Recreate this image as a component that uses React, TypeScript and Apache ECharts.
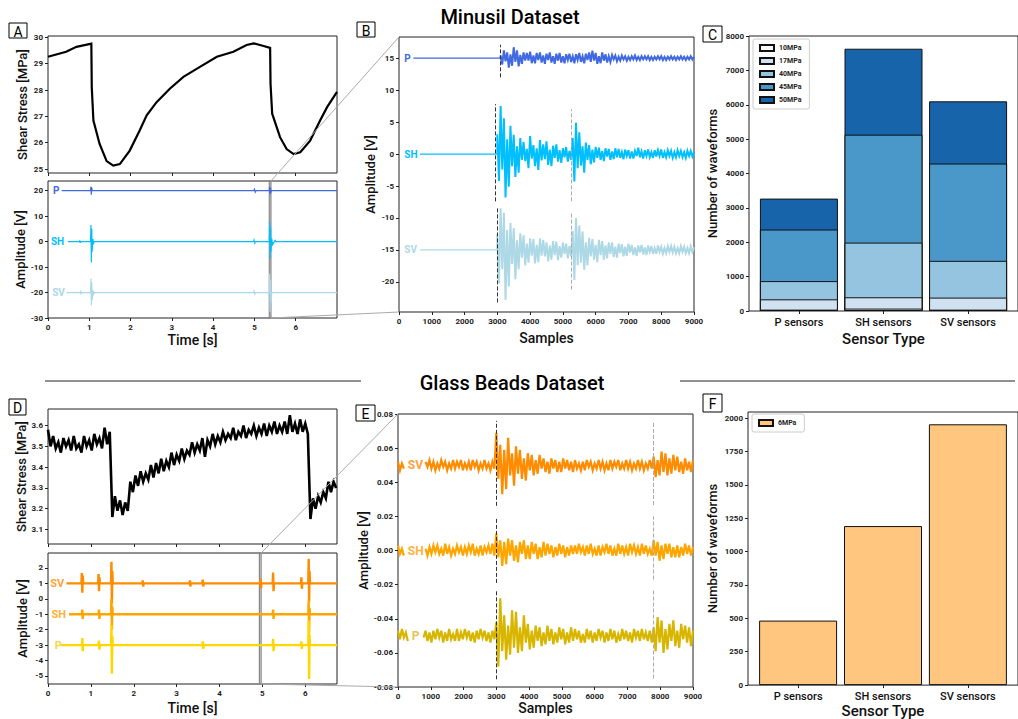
import React, { useEffect, useRef } from 'react';
import * as echarts from 'echarts';

const FONT = 'Roboto, "DejaVu Sans", sans-serif';

// ---------- Panel A (Minusil) : shear stress ----------
const aStressT = [0, 0.44, 0.69, 1.05, 1.06, 1.1, 1.25, 1.42, 1.58, 1.74, 1.98, 2.22, 2.39, 2.63, 2.95, 3.28, 3.68, 4.09, 4.49, 4.81, 4.98, 5.2, 5.38, 5.39, 5.43, 5.62, 5.78, 5.95, 6.11, 6.35, 6.59, 6.76, 7.0];
const aStressV = [29.26, 29.45, 29.64, 29.76, 28.1, 26.84, 25.95, 25.3, 25.13, 25.19, 25.7, 26.46, 27.04, 27.54, 28.05, 28.5, 28.88, 29.26, 29.45, 29.71, 29.77, 29.68, 29.6, 28.24, 27.1, 26.21, 25.76, 25.57, 25.64, 26.08, 26.84, 27.35, 27.93];

// ---------- Panel A : amplitude traces [time s, V] ----------
const aP = [[0.33, 20], [1.03, 20], [1.04, 21.6], [1.05, 18.4], [1.06, 21.2], [1.07, 20], [4.98, 20], [5.0, 20.6], [5.02, 19.4], [5.04, 20], [5.36, 20], [5.37, 21.5], [5.38, 18.5], [5.39, 21], [5.4, 19.2], [5.41, 20], [7, 20]];
const aSH = [[0.48, 0], [0.76, 0], [0.77, 0.5], [0.78, -0.5], [0.79, 0], [1.03, 0], [1.04, 6.5], [1.05, -8.2], [1.06, 5], [1.07, -4], [1.09, 1], [1.1, -1], [1.12, 0], [4.98, 0], [4.99, 0.6], [5.01, -0.6], [5.02, 0], [5.36, 0], [5.37, 7.8], [5.38, -6.6], [5.39, 5.5], [5.4, -4], [5.42, 1.2], [5.44, -1.2], [5.5, 0.5], [5.52, 0], [7, 0]];
const aSV = [[0.45, -20], [0.78, -20], [0.79, -19.3], [0.8, -20.7], [0.81, -20], [1.03, -20], [1.04, -14.5], [1.05, -25], [1.06, -16], [1.07, -23], [1.09, -19], [1.1, -21], [1.12, -20], [4.98, -20], [4.99, -19.4], [5.01, -20.6], [5.02, -20], [5.36, -20], [5.37, -12.5], [5.38, -27.5], [5.39, -15], [5.4, -24], [5.42, -20], [7, -20]];
const aZoom = [5.36, 5.4];

// ---------- Panel B : waveforms (offsets from trace baseline, V) ----------
const bStep = 50;
const bP = { start: 436, onset: 3100, base: 15 };
const bSH = { start: 640, onset: 3000, base: 0 };
const bSV = { start: 640, onset: 3000, base: -15 };
const bPOff = [0.4, -1.0, 1.2, -0.5, 0.9, -1.5, 0.6, -1.2, 1.7, -0.6, 1.2, -1.3, 0.5, -0.9, 0.9, -0.4, 0.8, -0.4, 1.0, -0.8, 0.4, -0.8, 0.8, -0.3, 0.9, -0.7, 0.4, -0.9, 0.7, -0.3, 0.9, -0.7, 0.3, -0.9, 0.7, -0.4, 0.8, -0.7, 0.3, -0.8, 0.6, -0.3, 0.7, -0.6, 0.3, -0.8, 0.6, -0.3, 0.8, -0.6, 0.3, -0.8, 0.7, -0.3, 0.9, -0.6, 1.15, -0.4, 0.8, -0.9, 0.3, -0.8, 0.9, -0.4, 0.6, -0.7, 0.3, -0.6, 0.5, -0.2, 0.4, -0.5, 0.2, -0.4, 0.4, -0.2, 0.3, -0.4, 0.2, -0.3, 0.3, -0.2, 0.4, -0.3, 0.2, -0.3, 0.3, -0.2, 0.3, -0.2, 0.3, -0.3, 0.2, -0.3, 0.2, -0.2, 0.3, -0.2, 0.3, -0.3, 0.2, -0.3, 0.2, -0.2, 0.3, -0.2, 0.2, -0.3, 0.2, -0.2, 0.3, -0.2, 0.2, -0.3, 0.2, -0.2, 0.3, -0.2, 0.2];
const bSHOff = [3.1, -4.2, 7.5, -2.4, 5.6, -6.8, 2.3, -5.1, 4.4, -1.9, 3.0, -3.6, 1.2, -2.9, 2.5, -0.9, 1.9, -1.1, 0.8, -2.2, 2.8, -0.7, 1.4, -1.9, 0.9, -2.5, 2.2, -1.0, 1.5, -0.8, 2.0, -1.7, 0.7, -1.9, 1.3, -0.6, 1.5, -1.2, 0.6, -1.4, 0.9, -0.5, 1.1, -1.2, 0.5, -0.9, 2.5, -4.3, 4.9, -2.2, 3.4, -1.8, 1.2, -2.9, 1.8, -0.9, 1.4, -1.6, 0.7, -1.3, 1.1, -0.6, 1.0, -0.9, 0.5, -1.1, 0.9, -0.4, 0.8, -0.9, 0.4, -0.8, 0.9, -0.5, 0.8, -0.6, 0.3, -0.8, 0.7, -0.3, 0.6, -0.7, 0.4, -0.7, 0.5, -0.3, 1.0, -0.5, 0.4, -0.7, 0.6, -0.3, 0.7, -0.5, 0.3, -0.6, 0.6, -0.4, 0.6, -0.3, 0.7, -0.6, 0.3, -0.5, 0.6, -0.3, 0.5, -0.6, 0.3, -0.5, 0.6, -0.3, 0.5, -0.5, 0.3, -0.6, 0.5, -0.3, 0.5, -0.4, 0.3];
const bSVOff = [2.5, -5.2, 6.5, -3.0, 5.8, -7.8, 3.1, -5.7, 4.2, -2.2, 3.4, -4.6, 1.5, -3.0, 2.6, -1.2, 2.3, -2.4, 1.0, -2.0, 1.8, -0.9, 1.7, -2.1, 0.8, -1.9, 1.8, -0.9, 1.6, -1.0, 1.2, -1.8, 0.7, -1.5, 1.4, -0.8, 1.3, -1.6, 0.6, -1.2, 1.2, -0.6, 1.0, -1.3, 0.6, -1.0, 3.0, -4.7, 5.0, -2.4, 3.8, -2.0, 2.9, -3.1, 1.2, -2.4, 1.9, -1.0, 1.7, -1.5, 0.8, -1.9, 1.6, -0.8, 1.4, -1.5, 0.7, -1.3, 1.2, -0.6, 1.2, -1.1, 0.5, -1.2, 1.0, -0.5, 0.9, -1.0, 0.5, -0.9, 1.0, -0.4, 0.8, -0.8, 0.4, -0.9, 0.7, -0.4, 0.8, -0.7, 0.4, -0.8, 0.7, -0.3, 0.6, -0.6, 0.3, -0.6, 0.7, -0.3, 0.5, -0.6, 0.3, -0.5, 0.6, -0.3, 0.6, -0.4, 0.5, -0.5, 0.3, -0.5, 0.6, -0.3, 0.5, -0.5, 0.3, -0.5, 0.6, -0.3, 0.4];
const bDashes = [
  { x: 3081, y0: 12.0, y1: 17.1, dark: true },
  { x: 2950, y0: -7.4, y1: 7.8, dark: true },
  { x: 5270, y0: -7.4, y1: 7.0, dark: false },
  { x: 2990, y0: -23.2, y1: -8.2, dark: true },
  { x: 5250, y0: -21.2, y1: -9.1, dark: false },
];

// ---------- Panel C : stacked bar counts ----------
const sensorCats = ['P sensors', 'SH sensors', 'SV sensors'];
const c10 = [40, 70, 40];
const c17 = [300, 330, 350];
const c40 = [530, 1590, 1070];
const c45 = [1500, 3140, 2830];
const c50 = [900, 2500, 1810];
const cNames = ['10MPa', '17MPa', '40MPa', '45MPa', '50MPa'];
const cColors = ['#f7fbff', '#d0e1f2', '#94c4df', '#4a98c9', '#1764ab'];

// ---------- Panel D (Glass beads) : shear stress, step 0.06 s ----------
const dStep = 0.06;
const dStress = [3.58, 3.50, 3.55, 3.49, 3.52, 3.47, 3.54, 3.50, 3.53, 3.48, 3.55, 3.49, 3.51, 3.47, 3.55, 3.50, 3.53, 3.48, 3.56, 3.51, 3.54, 3.49, 3.59, 3.51, 3.57,
  3.16, 3.26, 3.19, 3.24, 3.17, 3.23, 3.19,
  3.33, 3.28, 3.36, 3.31, 3.38, 3.33, 3.37, 3.34, 3.41, 3.35,
  3.42, 3.37, 3.44, 3.38, 3.43, 3.40, 3.47, 3.41, 3.46, 3.43,
  3.49, 3.44, 3.48, 3.46, 3.52, 3.47, 3.51, 3.48, 3.54, 3.45,
  3.53, 3.50, 3.56, 3.51, 3.55, 3.52, 3.57, 3.53, 3.56, 3.54,
  3.59, 3.53, 3.57, 3.55, 3.60, 3.54, 3.58, 3.56, 3.60, 3.55,
  3.59, 3.56, 3.61, 3.55, 3.60, 3.57, 3.62, 3.56, 3.60, 3.57,
  3.62, 3.56, 3.65, 3.57, 3.61, 3.56, 3.63, 3.57, 3.61, 3.56,
  3.15, 3.25, 3.20, 3.26, 3.23, 3.28, 3.25, 3.33, 3.28, 3.33, 3.30];

// ---------- Panel D : amplitude traces [time s, V] ----------
const dSV = [[0.43, 1], [0.78, 1], [0.79, 1.68], [0.8, 0.4], [0.81, 1.5], [0.82, 1], [1.17, 1], [1.18, 1.6], [1.19, 0.5], [1.2, 1.4], [1.21, 1], [1.47, 1], [1.48, 2.4], [1.49, -0.3], [1.5, 1.8], [1.51, 1], [2.2, 1], [2.21, 1.2], [2.22, 0.8], [2.23, 1], [3.3, 1], [3.31, 1.2], [3.32, 0.8], [3.33, 1], [3.6, 1], [3.61, 1.25], [3.62, 0.8], [3.63, 1], [4.95, 1], [4.96, 1.3], [4.97, 0.7], [4.98, 1], [5.24, 1], [5.25, 1.7], [5.26, 0.5], [5.27, 1], [5.9, 1], [5.91, 1.4], [5.92, 0.65], [5.93, 1], [6.07, 1], [6.08, 2.6], [6.09, -0.2], [6.1, 1.8], [6.11, 1], [6.74, 1]];
const dSH = [[0.49, -1], [0.79, -1], [0.8, -0.7], [0.81, -1.3], [0.82, -1], [1.18, -1], [1.19, -0.7], [1.2, -1.3], [1.21, -1], [1.47, -1], [1.48, 0.0], [1.49, -2.0], [1.5, -0.5], [1.51, -1], [5.24, -1], [5.25, -0.7], [5.26, -1.3], [5.27, -1], [6.07, -1], [6.08, -0.1], [6.09, -2.2], [6.1, -0.6], [6.11, -1], [6.74, -1]];
const dP = [[0.3, -3], [0.79, -3], [0.8, -2.55], [0.81, -3.4], [0.82, -3], [1.18, -3], [1.19, -2.7], [1.2, -3.3], [1.21, -3], [1.47, -3], [1.48, -1.7], [1.49, -4.85], [1.5, -2.4], [1.51, -3], [3.6, -3], [3.61, -2.75], [3.62, -3.25], [3.63, -3], [5.24, -3], [5.25, -2.6], [5.26, -3.4], [5.27, -3], [5.9, -3], [5.91, -2.75], [5.92, -3.25], [5.93, -3], [6.07, -3], [6.08, -1.4], [6.09, -5.2], [6.1, -2.3], [6.11, -3], [6.74, -3]];
const dZoom = [4.93, 4.97];

// ---------- Panel E : waveforms, step 60 samples, offsets in mV ----------
const eStep = 60;
const eSV = { base: 0.05, gap: [200, 820] };
const eSH = { base: 0, gap: [190, 820] };
const eP = { base: -0.05, gap: [335, 723] };
const eSVOff = [2, -3, 1, -2, 3, -1, 2, -3, 1, -2, 3, -2, 1, -3, 2, -1, 3, -2, 2, -3, 1, -2, 3, -1, 2, -3, 1, -2, 3, -2, 2, -1, 3, -3, 1, -2, 2, -3, 3, -1, 2, -3, 1, -2, 3, -2, 1, -3, 2, -2,
  19, -8, 12, -17, 9, -14, 16, -6, 7, -12, 11, -5, 9, -8, 4, -9, 7, -3, 6, -6, 3, -5, 6, -2, 4, -4, 2, -5, 4, -2, 3, -4, 2, -4, 4, -2, 3, -3, 2, -4,
  3, -2, 1, -3, 2, -3, 3, -1, 2, -3, 1, -2, 3, -2, 2, -3, 1, -3, 3, -2, 2, -1, 3, -3, 1, -2, 3, -2, 2, -3, 1, -2, 3, -2, 2, -3, 1, -2, 3, -2,
  5, -7, 3, -6, 8, -4, 7, -6, 4, -5, 6, -3, 5, -4, 2, -5, 4, -3, 2, -4, 3];
const eSHOff = [3, -2, 1, -3, 2, -3, 1, -2, 3, -1, 2, -3, 3, -2, 1, -3, 2, -2, 3, -1, 3, -2, 1, -3, 4, -2, 2, -3, 1, -2, 3, -1, 2, -3, 2, -2, 3, -1, 4, -3, 1, -2, 3, -3, 2, -1, 3, -2, 4, -3,
  10, -4, 6, -9, 5, -8, 7, -3, 6, -6, 3, -7, 5, -2, 6, -5, 3, -5, 5, -2, 4, -5, 2, -4, 5, -3, 4, -2, 3, -4, 2, -3, 4, -2, 3, -4, 2, -3, 3, -2,
  3, -2, 4, -1, 2, -3, 3, -2, 4, -2, 1, -3, 3, -3, 2, -1, 4, -2, 3, -3, 1, -3, 4, -2, 3, -2, 2, -3, 4, -1, 3, -2, 2, -3, 4, -2, 3, -2, 1, -3,
  6, -3, 5, -6, 3, -5, 4, -2, 4, -4, 2, -4, 3, -4, 2, -3, 4, -2, 3, -3, 2];
const ePOff = [3, -2, 4, -1, 2, -3, 4, -2, 1, -4, 3, -2, 4, -1, 3, -3, 2, -4, 3, -2, 4, -1, 3, -4, 2, -3, 4, -2, 1, -3, 4, -3, 2, -2, 4, -1, 3, -3, 2, -4, 3, -2, 4, -1, 3, -3, 2, -4, 3, -2,
  8, -18, 22, -9, 12, -14, 6, -11, 15, -7, 14, -10, 5, -9, 12, -4, 7, -8, 3, -7, 6, -3, 5, -6, 2, -5, 6, -3, 4, -5, 2, -4, 5, -2, 4, -5, 2, -4, 5, -3,
  4, -2, 3, -4, 1, -4, 4, -2, 3, -4, 2, -3, 4, -1, 3, -4, 2, -3, 4, -2, 3, -4, 1, -3, 4, -2, 3, -3, 2, -4, 4, -1, 3, -3, 4, -2, 2, -3, 3, -4,
  5, -9, 11, -4, 9, -10, 4, -8, 7, -3, 9, -6, 3, -7, 7, -2, 6, -4, 5, -6, 3];
const eDashes = [
  { x: 3000, y0: 0.0262, y1: 0.076, dark: true },
  { x: 3000, y0: -0.019, y1: 0.0185, dark: true },
  { x: 3000, y0: -0.0755, y1: -0.0232, dark: true },
  { x: 7790, y0: 0.0267, y1: 0.0755, dark: false },
  { x: 7790, y0: -0.017, y1: 0.02, dark: false },
  { x: 7790, y0: -0.075, y1: -0.023, dark: false },
];

// ---------- Panel F : bar counts ----------
const f6 = [483, 1191, 1953];

// ---------- helpers ----------
const tickLbl = { fontFamily: FONT, fontSize: 8, color: '#222', fontWeight: 'bold' as const, margin: 5, formatter: (v: number) => String(v) };
const nameStyle = { fontFamily: FONT, fontSize: 13, color: '#111', fontWeight: 500 as const };

function range(a: number, b: number, s: number) {
  const r: number[] = [];
  for (let v = a; v <= b + 1e-9; v += s) r.push(Math.round(v * 1000) / 1000);
  return r;
}

function vAxis(gi: number, min: number, max: number, ticks: number[], extra: any = {}) {
  const { axisLabel, ...rest } = extra;
  return {
    type: 'value', gridIndex: gi, min, max, scale: true,
    axisLine: { show: false, onZero: false },
    splitLine: { show: false },
    axisTick: { show: true, length: 3, customValues: ticks, lineStyle: { color: '#222' } },
    axisLabel: { ...tickLbl, customValues: ticks, ...(axisLabel || {}) },
    ...rest,
  };
}

function flatB(cfg: { start: number; onset: number; base: number }) {
  return [[cfg.start, cfg.base], [cfg.onset, cfg.base]];
}
function waveB(cfg: { start: number; onset: number; base: number }, offs: number[]) {
  const d: number[][] = [[cfg.onset, cfg.base]];
  offs.forEach((o, i) => d.push([cfg.onset + i * bStep, cfg.base + o]));
  return d;
}
function waveE(cfg: { base: number; gap: number[] }, offs: number[]) {
  return offs.map((o, i) => {
    const x = i * eStep;
    return x > cfg.gap[0] && x < cfg.gap[1] ? [x, null] : [x, cfg.base + o * 0.001];
  });
}
function dashLines(list: any[]) {
  return list.map((d) => [
    { coord: [d.x, d.y0], lineStyle: { color: d.dark ? '#333' : '#aaa', type: [4, 2], width: 1 } },
    { coord: [d.x, d.y1] },
  ]);
}
function lineS(gi: number, data: any[], color: string, width: number, extra: any = {}) {
  return {
    type: 'line', xAxisIndex: gi, yAxisIndex: gi, data, showSymbol: false, symbol: 'none',
    lineStyle: { color, width, join: 'miter' }, itemStyle: { color }, silent: true, animation: false, ...extra,
  };
}

function buildOption() {
  const grids = [
    { left: 48, top: 36, width: 289, height: 137 },
    { left: 48, top: 181, width: 289, height: 137 },
    { left: 399, top: 37, width: 295, height: 275 },
    { left: 749, top: 36, width: 277, height: 275 },
    { left: 48, top: 409, width: 289, height: 135 },
    { left: 48, top: 553, width: 289, height: 131 },
    { left: 398, top: 414, width: 295, height: 273 },
    { left: 748, top: 412, width: 277, height: 274 },
  ].map((g) => ({ ...g, show: true, borderColor: '#222', borderWidth: 1, backgroundColor: 'transparent' }));

  const catFmt = (v: number) => sensorCats[Math.round(v)] ?? '';
  const catLbl = { fontFamily: FONT, fontSize: 11, color: '#111', fontWeight: 500, margin: 6, formatter: catFmt };

  const xAxes = [
    vAxis(0, 0, 7, range(0, 6, 1), { axisLabel: { show: false } }),
    vAxis(1, 0, 7, range(0, 6, 1), { name: 'Time [s]', nameLocation: 'middle', nameGap: 15, nameTextStyle: { ...nameStyle, fontSize: 14 } }),
    vAxis(2, 0, 9000, range(0, 9000, 1000), { name: 'Samples', nameLocation: 'middle', nameGap: 19, nameTextStyle: { ...nameStyle, fontSize: 14 } }),
    vAxis(3, -0.59, 2.59, [0, 1, 2], { axisLabel: catLbl, name: 'Sensor Type', nameLocation: 'middle', nameGap: 20, nameTextStyle: { ...nameStyle, fontSize: 15 } }),
    vAxis(4, 0, 6.74, range(0, 6, 1), { axisLabel: { show: false } }),
    vAxis(5, 0, 6.74, range(0, 6, 1), { name: 'Time [s]', nameLocation: 'middle', nameGap: 17, nameTextStyle: { ...nameStyle, fontSize: 14 } }),
    vAxis(6, 0, 9000, range(0, 9000, 1000), { name: 'Samples', nameLocation: 'middle', nameGap: 10, nameTextStyle: { ...nameStyle, fontSize: 14 } }),
    vAxis(7, -0.59, 2.59, [0, 1, 2], { axisLabel: catLbl, name: 'Sensor Type', nameLocation: 'middle', nameGap: 14, nameTextStyle: { ...nameStyle, fontSize: 15 } }),
  ];
  const yName = (n: string, gap: number) => ({ name: n, nameLocation: 'middle', nameGap: gap, nameTextStyle: nameStyle });
  const yAxes = [
    vAxis(0, 24.85, 30.05, range(25, 30, 1), yName('Shear Stress [MPa]', 19)),
    vAxis(1, -30, 23.8, range(-30, 20, 10), yName('Amplitude [V]', 19)),
    vAxis(2, -24.7, 18.3, range(-20, 15, 5), yName('Amplitude [V]', 22)),
    vAxis(3, 0, 8000, range(0, 8000, 1000), yName('Number of waveforms', 30)),
    vAxis(4, 3.03, 3.68, range(3.1, 3.6, 0.1), { ...yName('Shear Stress [MPa]', 19), axisLabel: { formatter: (v: number) => v.toFixed(1) } }),
    vAxis(5, -5.52, 2.97, range(-5, 2, 1), yName('Amplitude [V]', 19)),
    vAxis(6, -0.08, 0.08, range(-0.08, 0.08, 0.02), { ...yName('Amplitude [V]', 28), axisLabel: { formatter: (v: number) => v.toFixed(2) } }),
    vAxis(7, 0, 2045, range(0, 2000, 250), yName('Number of waveforms', 29)),
  ];

  const series: any[] = [];
  // A
  series.push(lineS(0, aStressT.map((t, i) => [t, aStressV[i]]), '#000', 2.2));
  series.push(lineS(1, aP, '#4169e1', 1.2, {
    markArea: { silent: true, itemStyle: { color: 'rgba(120,120,120,0.25)', borderColor: '#888', borderWidth: 1.2 }, data: [[{ xAxis: aZoom[0], yAxis: -30 }, { xAxis: aZoom[1], yAxis: 23.8 }]] },
  }));
  series.push(lineS(1, aSH, '#00bfff', 1.2));
  series.push(lineS(1, aSV, '#add8e6', 1.2));
  // B
  series.push(lineS(2, flatB(bP), '#4169e1', 1.2, {
    markLine: { silent: true, symbol: ['none', 'none'], label: { show: false }, data: dashLines(bDashes) },
  }));
  series.push(lineS(2, flatB(bSH), '#00bfff', 1.2));
  series.push(lineS(2, flatB(bSV), '#add8e6', 1.2));
  series.push(lineS(2, waveB(bP, bPOff), '#4169e1', 2));
  series.push(lineS(2, waveB(bSH, bSHOff), '#00bfff', 2));
  series.push(lineS(2, waveB(bSV, bSVOff), '#add8e6', 2));
  // C : stacked bars, drawn as cumulative totals from the top segment down
  const cData = [c10, c17, c40, c45, c50];
  const cCum = cData.map((_, k) => sensorCats.map((_, i) => cData.slice(0, k + 1).reduce((s, a) => s + a[i], 0)));
  for (let k = cData.length - 1; k >= 0; k--) {
    series.push({
      type: 'bar', name: cNames[k], xAxisIndex: 3, yAxisIndex: 3, barWidth: 78, barGap: '-100%',
      data: cCum[k].map((v, i) => [i, v]),
      itemStyle: { color: cColors[k], borderColor: '#111', borderWidth: 1 }, silent: true,
    });
  }
  // D
  series.push(lineS(4, dStress.map((v, i) => [Math.round(i * dStep * 100) / 100, v]), '#000', 2.6));
  series.push(lineS(5, dSV, '#ff8c00', 2.4, {
    markArea: { silent: true, itemStyle: { color: 'rgba(120,120,120,0.25)', borderColor: '#888', borderWidth: 1.2 }, data: [[{ xAxis: dZoom[0], yAxis: -5.52 }, { xAxis: dZoom[1], yAxis: 2.97 }]] },
  }));
  series.push(lineS(5, dSH, '#ffa500', 2.4));
  series.push(lineS(5, dP, '#ffd700', 2.4));
  // E
  series.push(lineS(6, waveE(eSV, eSVOff), '#ff8c00', 2.2, {
    markLine: { silent: true, symbol: ['none', 'none'], label: { show: false }, data: dashLines(eDashes) },
  }));
  series.push(lineS(6, waveE(eSH, eSHOff), '#ffa500', 2.2));
  series.push(lineS(6, waveE(eP, ePOff), '#d8b600', 2.2));
  // F
  series.push({
    type: 'bar', name: '6MPa', xAxisIndex: 7, yAxisIndex: 7, barWidth: 78,
    data: f6.map((v, i) => [i, v]),
    itemStyle: { color: '#fec67e', borderColor: '#111', borderWidth: 1 }, silent: true,
  });

  const legendBase = {
    orient: 'vertical', itemWidth: 14, itemHeight: 6, itemGap: 5, icon: 'rect', selectedMode: false,
    textStyle: { fontFamily: FONT, fontSize: 7, fontWeight: 'bold', color: '#222' },
    borderColor: '#ccc', borderWidth: 1, borderRadius: 2, padding: [5, 8, 5, 6], backgroundColor: '#fff',
  };

  return {
    animation: false,
    textStyle: { fontFamily: FONT },
    grid: grids,
    xAxis: xAxes,
    yAxis: yAxes,
    legend: [
      { ...legendBase, data: cNames, left: 753, top: 39 },
      { ...legendBase, data: ['6MPa'], left: 752, top: 414 },
    ],
    series,
  };
}

function buildGraphic(chart: any) {
  const px = (g: number, p: number[]) => chart.convertToPixel({ gridIndex: g }, p);
  const els: any[] = [];
  const txt = (x: number, y: number, text: string, size: number, color: string, weight: any = 500, align = 'center') => ({
    type: 'text', x, y, silent: true, z: 100,
    style: { text, fill: color, fontSize: size, fontWeight: weight, fontFamily: FONT, align, verticalAlign: 'middle', textAlign: align, textVerticalAlign: 'middle' },
  });
  // titles and separators
  els.push(txt(510, 17, 'Minusil Dataset', 20, '#000', 500));
  els.push(txt(512, 383, 'Glass Beads Dataset', 20, '#000', 500));
  els.push({ type: 'line', silent: true, shape: { x1: 45, y1: 381, x2: 361, y2: 381 }, style: { stroke: '#222', lineWidth: 1 } });
  els.push({ type: 'line', silent: true, shape: { x1: 680, y1: 381, x2: 1015, y2: 381 }, style: { stroke: '#222', lineWidth: 1 } });
  // panel letters
  const boxes = [
    { t: 'A', x: 9, y: 23, w: 18, h: 15 },
    { t: 'B', x: 357, y: 22, w: 18, h: 15 },
    { t: 'C', x: 703, y: 26, w: 19, h: 16 },
    { t: 'D', x: 9, y: 399, w: 17, h: 16 },
    { t: 'E', x: 356, y: 405, w: 19, h: 16 },
    { t: 'F', x: 703, y: 394, w: 19, h: 18 },
  ];
  boxes.forEach((b) => {
    els.push({ type: 'rect', silent: true, z: 99, shape: { x: b.x, y: b.y, width: b.w, height: b.h }, style: { fill: '#fff', stroke: '#000', lineWidth: 1 } });
    els.push(txt(b.x + b.w / 2, b.y + b.h / 2 + 1, b.t, 14, '#000', 400));
  });
  // zoom connectors
  const conn = (a: number[], b: number[]) => ({ type: 'line', silent: true, z: 50, shape: { x1: a[0], y1: a[1], x2: b[0], y2: b[1] }, style: { stroke: '#aaa', lineWidth: 1 } });
  els.push(conn(px(1, [aZoom[1], 23.8]), px(2, [0, 18.3])));
  els.push(conn(px(1, [aZoom[1], -30]), px(2, [0, -24.7])));
  els.push(conn(px(5, [dZoom[1], 2.97]), px(6, [0, 0.08])));
  els.push(conn(px(5, [dZoom[1], -5.52]), px(6, [0, -0.08])));
  // trace labels
  const lab = (g: number, p: number[], t: string, size: number, color: string) => {
    const q = px(g, p);
    return txt(q[0], q[1], t, size, color, 'bold', 'left');
  };
  els.push(lab(1, [0.12, 20], 'P', 10, '#4169e1'));
  els.push(lab(1, [0.07, 0], 'SH', 10, '#00bfff'));
  els.push(lab(1, [0.1, -20], 'SV', 10, '#add8e6'));
  els.push(lab(2, [160, 15], 'P', 10, '#4169e1'));
  els.push(lab(2, [160, 0], 'SH', 10, '#00bfff'));
  els.push(lab(2, [160, -15], 'SV', 10, '#add8e6'));
  els.push(lab(5, [0.05, 1], 'SV', 11, '#ffa33a'));
  els.push(lab(5, [0.08, -1], 'SH', 11, '#ffb133'));
  els.push(lab(5, [0.16, -3], 'P', 11, '#ffd24d'));
  els.push(lab(6, [300, 0.05], 'SV', 12, '#ffa040'));
  els.push(lab(6, [300, 0], 'SH', 12, '#ffb340'));
  els.push(lab(6, [420, -0.05], 'P', 12, '#e8c45a'));
  return els;
}

export default function App() {
  const ref = useRef<HTMLDivElement>(null);
  useEffect(() => {
    if (!ref.current) return;
    const chart = echarts.init(ref.current, null, { renderer: 'svg' });
    chart.setOption(buildOption() as any);
    chart.setOption({ graphic: buildGraphic(chart) } as any);
    return () => chart.dispose();
  }, []);
  return <div ref={ref} style={{ position: 'absolute', left: 0, top: 0, width: 1018, height: 719, background: '#fff' }} />;
}
